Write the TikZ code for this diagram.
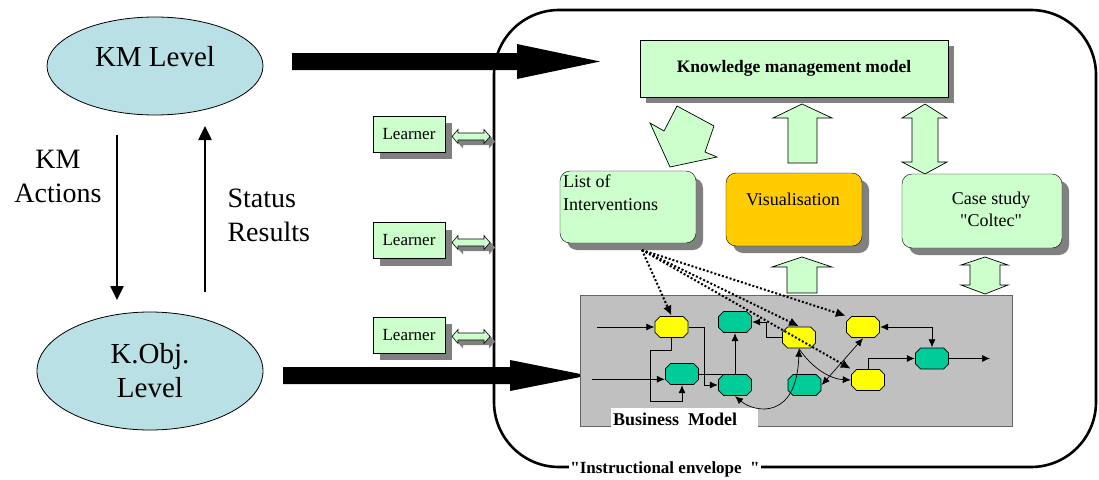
\documentclass[tikz,border=0pt]{standalone}
\usepackage{fontspec}
\setmainfont{Liberation Serif}
\usetikzlibrary{shapes.geometric,shadows,arrows.meta}
\definecolor{lgreen}{HTML}{CCFFCC}
\definecolor{lblue}{RGB}{185,224,228}
\definecolor{vorange}{HTML}{FFCC00}
\definecolor{bmgray}{HTML}{C0C0C0}
\definecolor{oyellow}{HTML}{FFFF00}
\definecolor{ogreen}{HTML}{00CC99}
\definecolor{shgray}{HTML}{808080}
\begin{document}
\begin{tikzpicture}[x=1pt,y=-1pt,
  lvl/.style={ellipse,draw,fill=lblue,line width=0.8pt,inner sep=0pt},
  bigtxt/.style={font=\fontsize{28}{34}\selectfont},
  shad/.style={drop shadow={shadow xshift=7pt,shadow yshift=-7pt,fill=shgray,opacity=1}},
  learnerbox/.style={draw,fill=lgreen,minimum width=72pt,minimum height=36pt,inner sep=0pt,font=\fontsize{17}{20}\selectfont,shad},
  roundbox/.style={draw,fill=lgreen,rounded corners=10pt,inner sep=0pt,shad},
  oct/.style={rectangle,minimum width=34pt,minimum height=22pt,inner sep=0pt,
    path picture={\draw[fill=#1,line width=0.7pt]
      ([xshift=5.5pt,yshift=-0.5pt]path picture bounding box.north west) --
      ([xshift=-5.5pt,yshift=-0.5pt]path picture bounding box.north east) --
      ([xshift=-0.5pt,yshift=-5.5pt]path picture bounding box.north east) --
      ([xshift=-0.5pt,yshift=5.5pt]path picture bounding box.south east) --
      ([xshift=-5.5pt,yshift=0.5pt]path picture bounding box.south east) --
      ([xshift=5.5pt,yshift=0.5pt]path picture bounding box.south west) --
      ([xshift=0.5pt,yshift=5.5pt]path picture bounding box.south west) --
      ([xshift=0.5pt,yshift=-5.5pt]path picture bounding box.north west) -- cycle;}},
  yel/.style={oct=oyellow},
  grn/.style={oct=ogreen},
  flow/.style={-{Latex[length=8pt,width=7pt]},line width=0.7pt},
  bflow/.style={{Latex[length=8pt,width=7pt]}-{Latex[length=8pt,width=7pt]},line width=0.7pt},
  dots/.style={line width=2pt,dash pattern=on 2pt off 2pt,-{Latex[length=10pt,width=9pt]}},
  blockarrow/.style={draw,fill=lgreen,line width=0.7pt},
  vert/.style={line width=2.5pt,-{Triangle[length=14pt,width=13pt]}},
  learnerarrow/.pic={
    \fill[shgray] (5,5) -- (11,-2) -- (11,1.5) -- (37,1.5) -- (37,-2) -- (43,5) -- (37,12) -- (37,8.5) -- (11,8.5) -- (11,12) -- cycle;
    \draw[fill=lgreen,line width=0.6pt] (0,0) -- (6,-7) -- (6,-3.5) -- (32,-3.5) -- (32,-7) -- (38,0) -- (32,7) -- (32,3.5) -- (6,3.5) -- (6,7) -- cycle;
  },
]
\useasboundingbox (0,0) rectangle (1099,479);

% envelope
\draw[line width=2.6pt,rounded corners=65pt] (494,10) rectangle (1096,467);
\node[fill=white,inner sep=1pt,font=\bfseries\fontsize{17}{20}\selectfont] (env) at (665,469) {\textquotedbl Instructional envelope~~\textquotedbl};

% left levels
\node[lvl,minimum width=216pt,minimum height=98pt] (kml) at (155,66) {};
\node[font=\fontsize{29}{34}\selectfont] (kmltxt) at (155,57) {KM Level};
\node[lvl,minimum width=226pt,minimum height=118pt,align=center,font=\fontsize{29}{34}\selectfont] (kol) at (150,371) {K.Obj.\\Level};

\coordinate (a1s) at (117,135);
\coordinate (a1e) at (117,300);
\coordinate (a2s) at (205,292);
\coordinate (a2e) at (205,126);
\draw[vert] (a1s) -- (a1e);
\draw[vert] (a2s) -- (a2e);
\node[bigtxt,align=center] (kma) at (58,176) {KM\\Actions};
\node[bigtxt,align=left,anchor=west] (sr) at (224,215) {Status\\Results};

% big black arrows
\fill (292,53) -- (517,53) -- (517,44) -- (600,61.5) -- (517,79) -- (517,70) -- (292,70) -- cycle;
\fill (283,367) -- (510,367) -- (510,360) -- (588,375.5) -- (510,391) -- (510,384) -- (283,384) -- cycle;

% learners
\node[learnerbox] (l1) at (409,134) {Learner};
\node[learnerbox] (l2) at (409,240.5) {Learner};
\node[learnerbox] (l3) at (409,335) {Learner};
\pic at (452,136.5) {learnerarrow};
\pic at (452,242.5) {learnerarrow};
\pic at (452,336.5) {learnerarrow};

% KM model
\node[draw,fill=lgreen,minimum width=308pt,minimum height=57pt,inner sep=0pt,
  drop shadow={shadow xshift=6pt,shadow yshift=-6pt,fill=shgray,opacity=1},
  font=\bfseries\fontsize{17.5}{20}\selectfont] (kmm) at (794,68.5) {Knowledge management model};

% block arrows top
\draw[blockarrow] (677,106) -- (714,126) -- (705,152) -- (717,157) -- (670,167) -- (650,123) -- (664,131) -- cycle;
\draw[blockarrow] (802,104) -- (832,118) -- (817,118) -- (817,163) -- (788,163) -- (788,118) -- (773,118) -- cycle;
\draw[blockarrow] (925,104) -- (947,118) -- (938,118) -- (938,162) -- (947,162) -- (925,174) -- (902,162) -- (912,162) -- (912,118) -- (902,118) -- cycle;

% middle boxes
\node[roundbox,minimum width=136pt,minimum height=72pt] (list) at (628,207) {};
\node[anchor=north west,align=left,inner sep=0pt,font=\fontsize{18}{23}\selectfont] (listtxt) at (563,175) {List of\\Interventions};
\node[roundbox,fill=vorange,minimum width=136pt,minimum height=73pt] (vis) at (794,209.5) {};
\node[font=\fontsize{18}{22}\selectfont] (vistxt) at (793,199) {Visualisation};
\node[roundbox,minimum width=160pt,minimum height=74pt] (case) at (982,211) {};
\node[align=center,font=\fontsize{18}{22}\selectfont] (casetxt) at (991,209) {Case study\\\textquotedbl Coltec\textquotedbl};

% lower block arrows
\draw[blockarrow] (802,257) -- (832,267) -- (817,267) -- (817,293) -- (787,293) -- (787,267) -- (772,267) -- cycle;
\draw[blockarrow] (985,257) -- (1008,265) -- (1000,265) -- (1000,285) -- (1008,285) -- (985,294) -- (961,285) -- (970,285) -- (970,265) -- (961,265) -- cycle;

% business model
\node[draw=black!60,fill=bmgray,minimum width=432pt,minimum height=131pt,inner sep=0pt,line width=0.8pt] (bm) at (796.7,361.2) {};
\node[anchor=north west,fill=white,minimum width=147pt,minimum height=21pt,inner sep=0pt] (bmlab) at (611,408) {};
\node[anchor=west,inner sep=0pt,font=\bfseries\fontsize{18}{20}\selectfont] (bmtxt) at (613,419) {Business~~Model};

% octagons
\node[yel] (y1) at (671.5,327) {};
\node[grn] (g1) at (735,322) {};
\node[yel] (y2) at (799,337.5) {};
\node[yel] (y3) at (863,327) {};
\node[grn] (g2) at (682,374) {};
\node[grn] (g3) at (735,385) {};
\node[grn] (g4) at (804.5,385) {};
\node[yel] (y4) at (868,380) {};
\node[grn] (g5) at (932,358.5) {};

\coordinate (in1) at (597,327);
\coordinate (in2) at (592,379.3);
\coordinate (out) at (990,358.5);
\draw[flow] (in1) -- (y1.west);
\draw[flow] (in2) -- (in2 -| g2.west);
\draw[flow] (y1.east) -- ++(15.5,0) |- (g3.west);
\draw[flow] (y1.south) -- ++(0,12.5) -- ++(-21,0) -- ++(0,51) -| (g2.south);
\draw[flow] (g2.east) -| (g1.south);
\draw[flow] (y2.west) -- ++(-15,0) |- (g1.east);
\draw[bflow] (g3.south) .. controls (755,413) and (797,420) .. (y2.south);
\draw[flow] (y2.south) .. controls (812,368) and (830,379) .. (y4.west);
\draw[bflow] (g4.east) -- (y3.south);
\draw[bflow] (y3.east) -| (g5.north);
\draw[flow] (y4.north) |- (g5.west);
\draw[flow] (g5.east) -- (out);

% dotted arrows
\coordinate (li) at (642,250);
\draw[dots] (li) -- (y1.north);
\draw[dots] (li) -- (y2.north);
\draw[dots] (li) -- (y4.north west);
\draw[dots] (li) -- (y3.north west);
\end{tikzpicture}
\end{document}
